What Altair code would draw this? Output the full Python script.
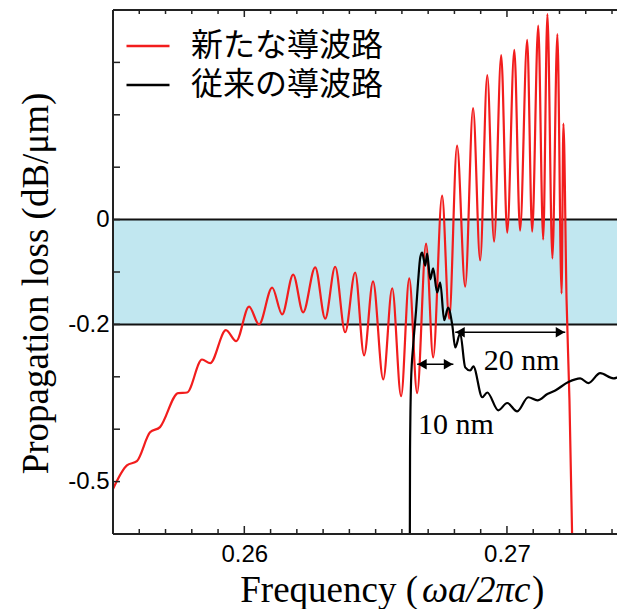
import altair as alt
import pandas as pd

# ---- data ----
series_names = ["新たな導波路", "従来の導波路"]
series_colors = ["#f21d1d", "#000000"]

red_x = [0.25500, 0.25553, 0.25591, 0.25641, 0.25679, 0.25748, 0.25782, 0.25839, 0.25870,
         0.25930, 0.25969, 0.26018, 0.26056, 0.26106, 0.26144, 0.26186, 0.26224, 0.26270,
         0.26308, 0.26346, 0.26384, 0.26422, 0.26456, 0.26490, 0.26529, 0.26563, 0.26597,
         0.26628, 0.26658, 0.26692, 0.26719, 0.26753, 0.26780, 0.26810, 0.26841, 0.26871,
         0.26898, 0.26925, 0.26951, 0.26978, 0.27001, 0.27028, 0.27050, 0.27077, 0.27096,
         0.27119, 0.27138, 0.27154, 0.27173, 0.27192, 0.27208, 0.27215, 0.27227, 0.27238,
         0.27250]
red_y = [-0.514, -0.469, -0.461, -0.406, -0.396, -0.331, -0.330, -0.267, -0.274,
         -0.211, -0.232, -0.166, -0.200, -0.130, -0.181, -0.105, -0.177, -0.091,
         -0.189, -0.090, -0.215, -0.101, -0.259, -0.118, -0.305, -0.131, -0.337,
         -0.112, -0.331, -0.046, -0.263, 0.046, -0.189, 0.141, -0.128, 0.213,
         -0.078, 0.276, -0.042, 0.314, -0.025, 0.324, -0.021, 0.343, -0.023,
         0.370, -0.038, 0.392, -0.074, 0.354, -0.141, 0.183, -0.154, -0.345,
         -0.650]

black_x = [0.26630, 0.26631, 0.26635, 0.26643, 0.26654, 0.26662, 0.26670, 0.26677, 0.26689,
           0.26696, 0.26708, 0.26719, 0.26734, 0.26746, 0.26761, 0.26776, 0.26792, 0.26803,
           0.26822, 0.26841, 0.26860, 0.26872, 0.26906, 0.26925, 0.26967, 0.27001, 0.27039,
           0.27081, 0.27116, 0.27154, 0.27184, 0.27234, 0.27279, 0.27310, 0.27355, 0.27405,
           0.27451]
black_y = [-0.650, -0.440, -0.307, -0.240, -0.173, -0.116, -0.072, -0.063, -0.088,
           -0.065, -0.114, -0.093, -0.139, -0.120, -0.192, -0.168, -0.202, -0.244,
           -0.217, -0.282, -0.288, -0.280, -0.339, -0.330, -0.364, -0.350, -0.366,
           -0.339, -0.345, -0.333, -0.326, -0.310, -0.303, -0.312, -0.293, -0.303,
           -0.291]

x_minor_ticks = [0.255, 0.256, 0.257, 0.258, 0.259, 0.261, 0.262, 0.263, 0.264, 0.265,
                 0.266, 0.267, 0.268, 0.269, 0.271, 0.272, 0.273, 0.274]
x_major_ticks = [0.26, 0.27]
y_ticks = [0.3, 0.2, 0.1, 0.0, -0.1, -0.2, -0.3, -0.4, -0.5]
y_label_values = [0, -0.2, -0.5]
band_top = 0.0
band_bottom = -0.2

arrow_y = [-0.276, -0.215]
arrow_x1 = [0.26658, 0.26803]
arrow_x2 = [0.26796, 0.27222]
note_text = ["10 nm", "20 nm"]
note_x = [0.26806, 0.27056]
note_y = [-0.392, -0.269]

x_title_parts = ["Frequency (", "ωa/2πc", ")"]

# ---- layout ----
W, H = 504, 524
XDOM = [0.255, 0.27419]
YDOM = [-0.6, 0.4]

lines = pd.concat([
    pd.DataFrame({"x": red_x, "y": red_y, "series": series_names[0], "o": range(len(red_x))}),
    pd.DataFrame({"x": black_x, "y": black_y, "series": series_names[1], "o": range(len(black_x))}),
])

xscale = alt.Scale(domain=XDOM, nice=False, zero=False)
yscale = alt.Scale(domain=YDOM, nice=False, zero=False)

x_axis = alt.Axis(values=x_major_ticks, format=".2f", ticks=False, domain=False, grid=False,
                  labelFont="Liberation Sans", labelFontSize=24, labelColor="black",
                  labelPadding=8, title=None)
y_axis = alt.Axis(values=y_label_values, ticks=False, domain=False, grid=False,
                  labelExpr="datum.value == 0 ? '0' : '-' + format(abs(datum.value), '.1f')",
                  labelFont="Liberation Sans", labelFontSize=24, labelColor="black",
                  labelPadding=4, title="Propagation loss (dB/μm)", titleFont="Liberation Serif",
                  titleFontSize=37, titleFontWeight="normal", titleColor="black",
                  titleX=-66, titleY=273, titleBaseline="alphabetic", titleAngle=270)

X = alt.X("x:Q", scale=xscale, axis=x_axis)
Y = alt.Y("y:Q", scale=yscale, axis=y_axis)

band = alt.Chart(pd.DataFrame({"y": [band_top], "y2": [band_bottom]})).mark_rect(
    color="#c1e7f0").encode(x=alt.value(0), x2=alt.value(W), y=Y, y2="y2:Q")

band_lines = alt.Chart(pd.DataFrame({"y": [band_top, band_bottom]})).mark_rule(
    color="#111", strokeWidth=2).encode(y=Y, x=alt.value(0), x2=alt.value(W))

curves = alt.Chart(lines).mark_line(interpolate="monotone", strokeWidth=2.2, clip=True).encode(
    x=X, y=Y, order="o:Q",
    color=alt.Color("series:N", scale=alt.Scale(domain=series_names, range=series_colors),
                    legend=alt.Legend(title=None, orient="none", legendX=12, legendY=13,
                                      symbolType="stroke", symbolSize=1849,
                                      symbolStrokeWidth=2.5, labelFont="Noto Sans CJK JP",
                                      labelFontSize=32, labelOffset=20, rowPadding=-5,
                                      padding=0, labelColor="black", labelLimit=400)))

arrows_df = pd.DataFrame({"x": arrow_x1, "x2": arrow_x2, "y": arrow_y})
arrow_rules = alt.Chart(arrows_df).mark_rule(color="black", strokeWidth=1.5).encode(
    x=X, x2="x2:Q", y=Y)
heads_left = alt.Chart(pd.DataFrame({"x": arrow_x1, "y": arrow_y})).mark_point(
    shape="triangle-left", filled=True, color="black", size=110, opacity=1, xOffset=5
).encode(x=X, y=Y)
heads_right = alt.Chart(pd.DataFrame({"x": arrow_x2, "y": arrow_y})).mark_point(
    shape="triangle-right", filled=True, color="black", size=110, opacity=1, xOffset=-5
).encode(x=X, y=Y)

notes = alt.Chart(pd.DataFrame({"x": note_x, "y": note_y, "t": note_text})).mark_text(
    font="Liberation Serif", fontSize=30, color="black", align="center", baseline="middle"
).encode(x=X, y=Y, text="t:N")

# x-axis title with italic math part
title_y = H + 68
xt1 = alt.Chart(pd.DataFrame({"t": [x_title_parts[0]]})).mark_text(
    font="Liberation Serif", fontSize=37, color="black", align="right", baseline="alphabetic"
).encode(text="t:N", x=alt.value(305), y=alt.value(title_y))
xt2 = alt.Chart(pd.DataFrame({"t": [x_title_parts[1]]})).mark_text(
    font="Liberation Serif", fontSize=37, fontStyle="italic", color="black", align="left",
    baseline="alphabetic"
).encode(text="t:N", x=alt.value(309), y=alt.value(title_y))
xt3 = alt.Chart(pd.DataFrame({"t": [x_title_parts[2]]})).mark_text(
    font="Liberation Serif", fontSize=37, color="black", align="left", baseline="alphabetic"
).encode(text="t:N", x=alt.value(419), y=alt.value(title_y))

# frame (left, top, bottom) and inward ticks
frame_l = alt.Chart(pd.DataFrame({"a": [0]})).mark_rule(color="#222", strokeWidth=2).encode(
    x=alt.value(0), y=alt.value(0), y2=alt.value(H))
frame_t = alt.Chart(pd.DataFrame({"a": [0]})).mark_rule(color="#222", strokeWidth=2).encode(
    y=alt.value(0), x=alt.value(0), x2=alt.value(W))
frame_b = alt.Chart(pd.DataFrame({"a": [0]})).mark_rule(color="#222", strokeWidth=2).encode(
    y=alt.value(H), x=alt.value(0), x2=alt.value(W))

yt = alt.Chart(pd.DataFrame({"y": y_ticks})).mark_rule(color="#222", strokeWidth=1.5).encode(
    y=Y, x=alt.value(0), x2=alt.value(7))
xt_minor_b = alt.Chart(pd.DataFrame({"x": x_minor_ticks})).mark_rule(color="#222", strokeWidth=1.5).encode(
    x=X, y=alt.value(H), y2=alt.value(H - 5))
xt_major_b = alt.Chart(pd.DataFrame({"x": x_major_ticks})).mark_rule(color="#222", strokeWidth=1.5).encode(
    x=X, y=alt.value(H), y2=alt.value(H - 8))
xt_minor_t = alt.Chart(pd.DataFrame({"x": x_minor_ticks})).mark_rule(color="#222", strokeWidth=1.5).encode(
    x=X, y=alt.value(0), y2=alt.value(4))
xt_major_t = alt.Chart(pd.DataFrame({"x": x_major_ticks})).mark_rule(color="#222", strokeWidth=1.5).encode(
    x=X, y=alt.value(0), y2=alt.value(7))

chart = alt.layer(
    band, band_lines, curves, arrow_rules, heads_left, heads_right, notes,
    xt1, xt2, xt3, frame_l, frame_t, frame_b,
    yt, xt_minor_b, xt_major_b, xt_minor_t, xt_major_t
).properties(
    width=W, height=H,
    autosize=alt.AutoSizeParams(type="none"),
    padding={"left": 105, "top": 2, "right": 0, "bottom": 75},
).configure_view(strokeWidth=0).configure(background="white")

chart.save("out.html", embed_options={"renderer": "svg", "actions": False})
